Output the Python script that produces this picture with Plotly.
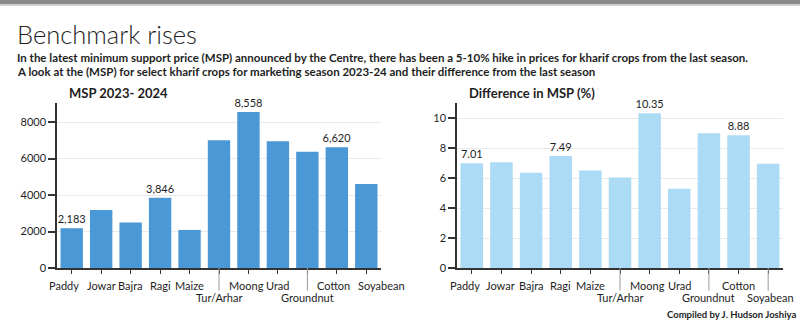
import plotly.graph_objects as go

# ---- data ----
crops = ["Paddy", "Jowar", "Bajra", "Ragi", "Maize", "Tur/Arhar",
         "Moong", "Urad", "Groundnut", "Cotton", "Soyabean"]
msp_2023_24 = [2183, 3180, 2500, 3846, 2090, 7000, 8558, 6950, 6377, 6620, 4600]
msp_diff_pct = [7.01, 7.07, 6.38, 7.49, 6.52, 6.06, 10.35, 5.30, 9.01, 8.88, 6.98]
labelled_crops = ["Paddy", "Ragi", "Moong", "Cotton"]
lowered_left = ["Tur/Arhar", "Groundnut"]
lowered_right = ["Tur/Arhar", "Groundnut", "Soyabean"]

title = "Benchmark rises"
subtitle1 = ("In the latest minimum support price (MSP) announced by the Centre, there has been "
             "a 5-10% hike in prices for kharif crops from the last season.")
subtitle2 = ("A look at the (MSP) for select kharif crops for marketing season 2023-24 and their "
             "difference from the last season")
panel1 = "MSP 2023- 2024"
panel2 = "Difference in MSP (%)"
credit = "Compiled by J. Hudson Joshiya"

W, H = 800, 330
FONT = "Lato"
DARK = "#1e1e1e"

# label nudges (pixels) to keep crowded category labels apart
shift_left = {"Paddy": -8, "Moong": -2, "Cotton": -3, "Soyabean": 15}
shift_right = {"Paddy": -7, "Jowar": -1, "Moong": -2, "Soyabean": 2}


def px_y(p):
    """pixel from top -> paper fraction"""
    return 1 - p / H


def px_x(p):
    return p / W


text_left = [f"{v:,}" if c in labelled_crops else "" for c, v in zip(crops, msp_2023_24)]
text_right = [f"{v:.2f}" if c in labelled_crops else "" for c, v in zip(crops, msp_diff_pct)]

fig = go.Figure()
fig.add_trace(go.Bar(x=crops, y=msp_2023_24, text=text_left, textposition="outside",
                     cliponaxis=False, constraintext="none",
                     marker=dict(color="#4b98d7", line=dict(width=0)),
                     textfont=dict(family=FONT, size=11, color=DARK),
                     xaxis="x", yaxis="y", hoverinfo="x+y"))
fig.add_trace(go.Bar(x=crops, y=msp_diff_pct, text=text_right, textposition="outside",
                     cliponaxis=False, constraintext="none",
                     marker=dict(color="#acdcf5", line=dict(width=0)),
                     textfont=dict(family=FONT, size=11, color=DARK),
                     xaxis="x2", yaxis="y2", hoverinfo="x+y"))

y_bot = px_y(273)
y_top = px_y(105)
x_rng = [-0.5, len(crops) - 0.5]

common_x = dict(type="category", showline=True, linecolor="#333", linewidth=1.5,
                ticks="outside", ticklen=4, tickcolor="#333", tickwidth=1,
                showticklabels=False, showgrid=False, fixedrange=True, range=x_rng)
common_y = dict(showline=True, linecolor="#333", linewidth=1.5, ticks="outside",
                ticklen=7, tickcolor="#333", tickwidth=1.5,
                tickfont=dict(family=FONT, size=11, color=DARK),
                showgrid=True, gridcolor="#e9e9e9", gridwidth=1, zeroline=False,
                fixedrange=True)

fig.update_layout(
    width=W, height=H, margin=dict(l=0, r=0, t=0, b=0),
    paper_bgcolor="white", plot_bgcolor="white", showlegend=False,
    bargap=0.24,
    font=dict(family=FONT, color=DARK),
    xaxis=dict(domain=[px_x(57), px_x(381)], anchor="y", **common_x),
    yaxis=dict(domain=[y_bot, y_top], anchor="x", range=[0, 9040], dtick=2000,
               tickformat="d", **common_y),
    xaxis2=dict(domain=[px_x(457), px_x(783)], anchor="y2", **common_x),
    yaxis2=dict(domain=[y_bot, y_top], anchor="x2", range=[0, 11.03], dtick=2,
                **common_y),
)

# top grey band
fig.add_shape(type="rect", xref="paper", yref="paper", x0=0, x1=1,
              y0=px_y(4), y1=1, fillcolor="#8a8a8a", line=dict(width=0), layer="above")
fig.add_shape(type="rect", xref="paper", yref="paper", x0=0, x1=1,
              y0=px_y(6), y1=px_y(4), fillcolor="#cfcfcf", line=dict(width=0), layer="above")

# category labels (two rows) with leader lines for the lowered ones
for xr, lowered, shifts in (("x", lowered_left, shift_left),
                            ("x2", lowered_right, shift_right)):
    for i, c in enumerate(crops):
        low = c in lowered
        fig.add_annotation(xref=xr, yref="paper", x=i, y=px_y(303.5 if low else 291),
                           xshift=shifts.get(c, 0), text=c, showarrow=False,
                           xanchor="center", yanchor="middle",
                           font=dict(family=FONT, size=11, color=DARK))
        if low:
            fig.add_shape(type="line", xref=xr, yref="paper", x0=i, x1=i,
                          y0=y_bot, y1=px_y(296), line=dict(color="#9a9a9a", width=1))

anns = [
    dict(text=title, x=px_x(15), y=px_y(35), font=dict(size=25.5, weight=300), anchor="left"),
    dict(text=subtitle1, x=px_x(15), y=px_y(58.5), font=dict(size=11.5, weight=700), anchor="left"),
    dict(text=subtitle2, x=px_x(15), y=px_y(72.5), font=dict(size=11.5, weight=700), anchor="left"),
    dict(text=panel1, x=px_x(67), y=px_y(95), font=dict(size=13, weight=700), anchor="left"),
    dict(text=panel2, x=px_x(467), y=px_y(95), font=dict(size=13, weight=700), anchor="left"),
    dict(text=credit, x=px_x(798), y=px_y(320), font=dict(size=9.5, weight=700), anchor="right"),
]
for a in anns:
    fig.add_annotation(xref="paper", yref="paper", xanchor=a["anchor"], yanchor="middle",
                       showarrow=False, text=a["text"], x=a["x"], y=a["y"],
                       font=dict(family=FONT, color=DARK, **a["font"]))

fig.write_html("out.html")
